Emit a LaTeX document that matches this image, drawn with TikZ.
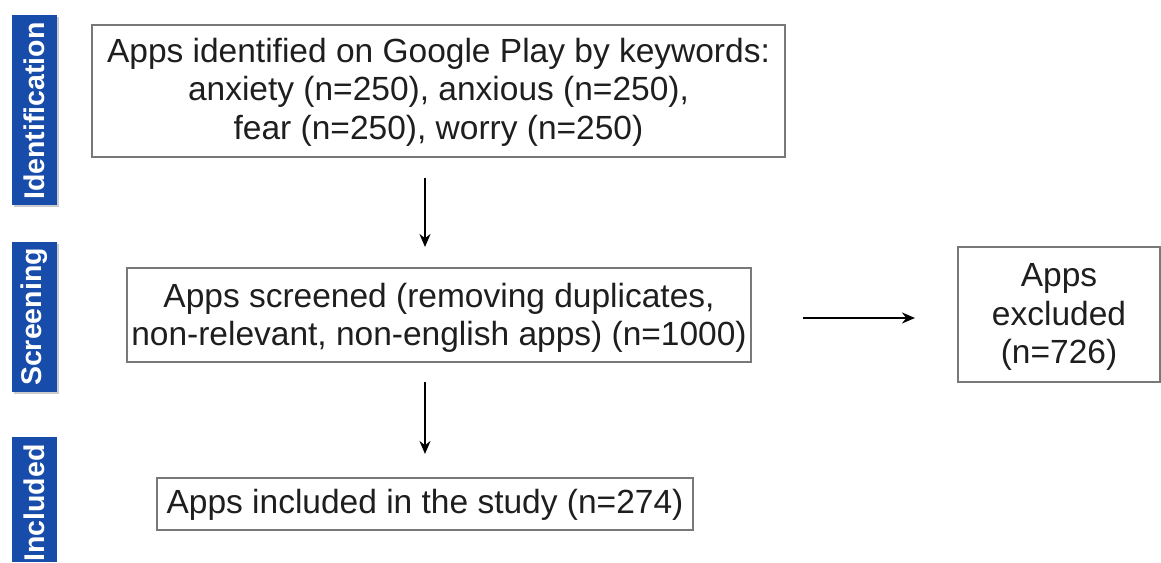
\documentclass[tikz,border=0pt]{standalone}
\usepackage{fontspec}
\setmainfont{Liberation Sans}
\usetikzlibrary{arrows.meta}
\definecolor{bandblue}{RGB}{24,76,170}
\definecolor{boxgray}{RGB}{120,120,120}
\definecolor{txt}{RGB}{30,30,30}
\tikzset{
  band/.style={fill=bandblue, draw=none, inner sep=0pt},
  bandtext/.style={text=white, font=\fontsize{28.5}{32}\selectfont\bfseries, rotate=90},
  flowbox/.style={draw=boxgray, line width=1.6pt, inner sep=0pt},
  flowtext/.style={text=txt, font=\fontsize{33.5}{38.5}\selectfont, align=center},
  conn/.style={draw=black, line width=2pt, -{Stealth[length=13pt,width=11pt]}}
}
\begin{document}
\begin{tikzpicture}[x=1pt,y=-1pt]
\useasboundingbox (0,0) rectangle (1161,562);
% bands
\fill[gray!40] (14,17) rectangle (59,207);
\fill[band] (12,15) rectangle (57,205);
\node[bandtext] (lid) at (34.5,111) {Identification};
\fill[gray!40] (14,244) rectangle (59,394);
\fill[band] (12,242) rectangle (57,392);
\node[bandtext] (lsc) at (34.5,317) {Screening};
\fill[band] (12,437) rectangle (57,562);
\node[bandtext] (lin) at (34.5,503) {Included};
% boxes
\draw[flowbox] (92,25) rectangle (785,157);
\node[flowtext] (b1) at (438.5,92) {Apps identified on Google Play by keywords:\\anxiety (n=250), anxious (n=250),\\fear (n=250), worry (n=250)};
\coordinate (b1s) at (425,178);
\coordinate (b1e) at (425,247);
\draw[flowbox] (127,268) rectangle (751,362);
\node[flowtext] (b2) at (439,318) {Apps screened (removing duplicates,\\non-relevant, non-english apps) (n=1000)};
\draw[flowbox] (958,247) rectangle (1160,382);
\node[flowtext] (b3) at (1059,317) {Apps\\excluded\\(n=726)};
\draw[flowbox] (157,478) rectangle (693,530);
\node[flowtext] (b4) at (425,505) {Apps included in the study (n=274)};
\coordinate (a2s) at (425,382);
\coordinate (a2e) at (425,454);
\coordinate (a3s) at (803,318);
\coordinate (a3e) at (915,318);
\draw[conn] (b1s) -- (b1e);
\draw[conn] (a2s) -- (a2e);
\draw[conn] (a3s) -- (a3e);
\end{tikzpicture}
\end{document}
